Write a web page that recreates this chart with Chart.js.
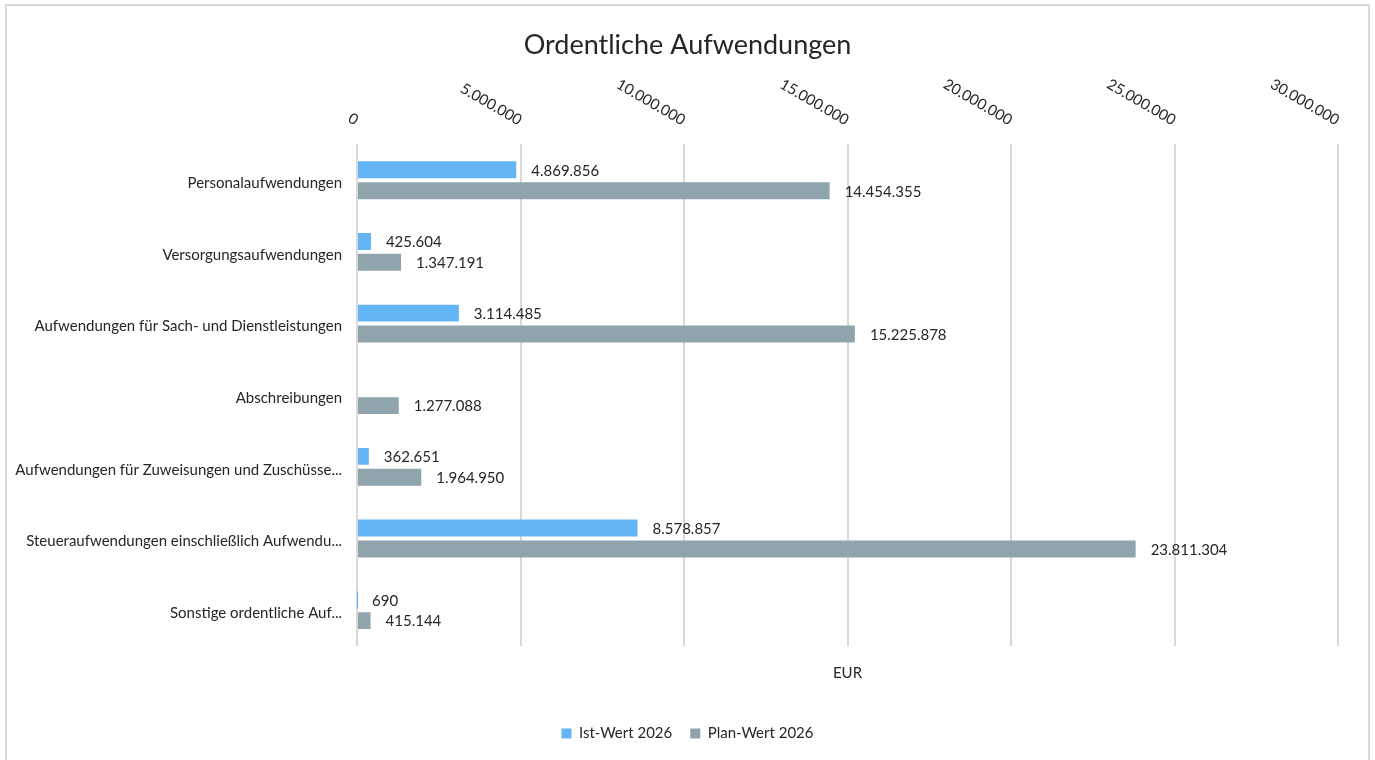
<!DOCTYPE html>
<html>
<head>
<meta charset="utf-8">
<script src="https://cdn.jsdelivr.net/npm/chart.js@4"></script>
<style>
  body { margin: 0; background: #fff; }
  #frame { position: absolute; left: 5px; top: 4px; width: 1365px; height: 780px; border: 2px solid #d9d9d9; box-sizing: border-box; }
  #wrap { position: absolute; left: 0; top: 0; width: 1375px; height: 760px; }
</style>
</head>
<body>
<div id="frame"></div>
<div id="wrap"><canvas id="chart"></canvas></div>
<script>
// Daten
const categories = [
  'Personalaufwendungen',
  'Versorgungsaufwendungen',
  'Aufwendungen für Sach- und Dienstleistungen',
  'Abschreibungen',
  'Aufwendungen für Zuweisungen und Zuschüsse...',
  'Steueraufwendungen einschließlich Aufwendu...',
  'Sonstige ordentliche Auf...'
];
const istWert = [4869856, 425604, 3114485, null, 362651, 8578857, 690];
const planWert = [14454355, 1347191, 15225878, 1277088, 1964950, 23811304, 415144];
const xMax = 30000000;
const xStep = 5000000;

const textColor = '#262626';
const font = 'Lato';

// Zahl mit Tausenderpunkten
function fmt(v) {
  return String(Math.round(v)).replace(/\B(?=(\d{3})+(?!\d))/g, '.');
}

// schräge Achsenbeschriftung oben (im Uhrzeigersinn gedreht)
const topTicks = {
  id: 'topTicks',
  afterDraw(chart) {
    const sc = chart.scales.x;
    const ctx = chart.ctx;
    ctx.save();
    ctx.font = '15px ' + font;
    ctx.fillStyle = textColor;
    ctx.textAlign = 'right';
    ctx.textBaseline = 'middle';
    sc.ticks.forEach(t => {
      const x = sc.getPixelForValue(t.value);
      ctx.save();
      ctx.translate(x, sc.bottom - 23);
      ctx.rotate(30 * Math.PI / 180);
      ctx.fillText(fmt(t.value), 0, 0);
      ctx.restore();
    });
    ctx.restore();
  }
};

// Werte neben den Balken
const valueLabels = {
  id: 'valueLabels',
  afterDatasetsDraw(chart) {
    const ctx = chart.ctx;
    ctx.save();
    ctx.font = '15px ' + font;
    ctx.fillStyle = textColor;
    ctx.textAlign = 'left';
    ctx.textBaseline = 'middle';
    chart.data.datasets.forEach((ds, i) => {
      const meta = chart.getDatasetMeta(i);
      meta.data.forEach((bar, j) => {
        const v = ds.data[j];
        if (v == null) return;
        ctx.fillText(fmt(v), bar.x + 15, bar.y + 1);
      });
    });
    ctx.restore();
  }
};

const ctx = document.getElementById('chart').getContext('2d');
new Chart(ctx, {
  type: 'bar',
  data: {
    labels: categories,
    datasets: [
      {
        label: 'Ist-Wert 2026',
        data: istWert,
        backgroundColor: '#64B5F6',
        barPercentage: 0.81,
        categoryPercentage: 0.583
      },
      {
        label: 'Plan-Wert 2026',
        data: planWert,
        backgroundColor: '#90A4AE',
        barPercentage: 0.81,
        categoryPercentage: 0.583
      }
    ]
  },
  options: {
    indexAxis: 'y',
    responsive: true,
    maintainAspectRatio: false,
    animation: false,
    layout: { padding: { left: 0, right: 0, top: 0, bottom: 9 } },
    plugins: {
      title: {
        display: true,
        text: 'Ordentliche Aufwendungen',
        color: textColor,
        font: { family: font, size: 27, weight: 'normal' },
        padding: { top: 29, bottom: 13 }
      },
      legend: {
        position: 'bottom',
        labels: {
          color: textColor,
          font: { family: font, size: 15 },
          boxWidth: 10,
          boxHeight: 10,
          padding: 18
        }
      },
      tooltip: { enabled: false }
    },
    scales: {
      x: {
        position: 'top',
        min: 0,
        max: xMax,
        ticks: { display: false, stepSize: xStep },
        grid: { color: '#d9d9d9', lineWidth: 2, drawTicks: false },
        border: { display: false },
        afterFit(scale) { scale.height = 70; }
      },
      x2: {
        position: 'bottom',
        axis: 'x',
        type: 'linear',
        min: 0,
        max: xMax,
        ticks: { display: false },
        grid: { display: false, drawTicks: false },
        border: { display: false },
        title: {
          display: true,
          text: 'EUR',
          color: textColor,
          font: { family: font, size: 15 },
          padding: { top: 0, bottom: 26 }
        },
        afterFit(scale) { scale.height = 62; }
      },
      y: {
        ticks: {
          color: textColor,
          font: { family: font, size: 15 },
          padding: 15,
          labelOffset: 3
        },
        grid: { display: false, drawTicks: false },
        border: { display: false },
        afterFit(scale) { scale.width = 357; }
      },
      // leerer Rand rechts, damit die Legende mittig sitzt
      y2: {
        position: 'right',
        axis: 'y',
        type: 'category',
        ticks: { display: false },
        grid: { display: false, drawTicks: false },
        border: { display: false },
        afterFit(scale) { scale.width = 37; }
      }
    }
  },
  plugins: [topTicks, valueLabels]
});
</script>
</body>
</html>
